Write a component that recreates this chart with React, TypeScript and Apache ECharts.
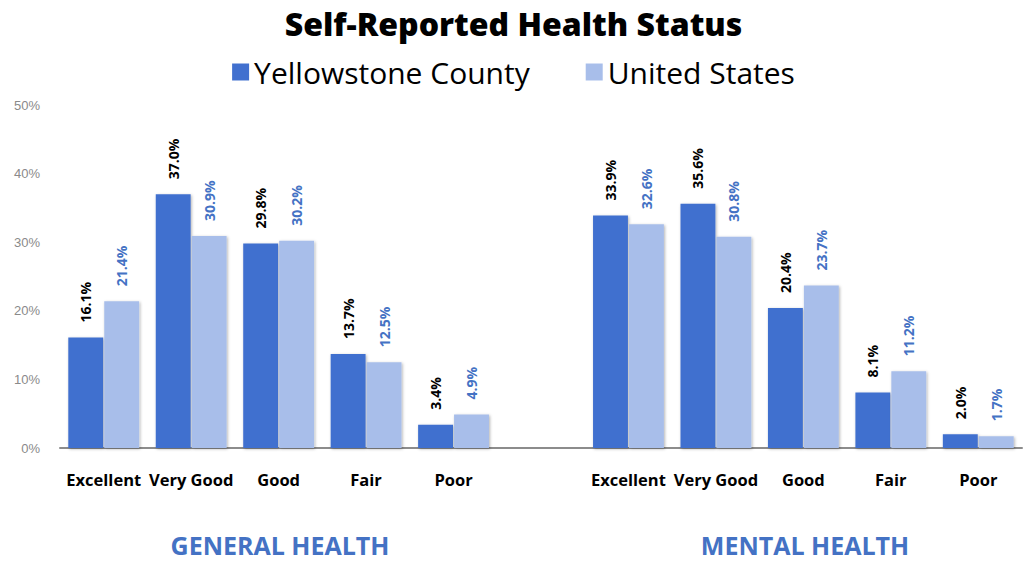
import React, { useEffect, useRef } from "react";
import * as echarts from "echarts";

const categories = ["Excellent", "Very Good", "Good", "Fair", "Poor", "", "Excellent", "Very Good", "Good", "Fair", "Poor"];
const generalYellowstone = [16.1, 37.0, 29.8, 13.7, 3.4];
const generalUS = [21.4, 30.9, 30.2, 12.5, 4.9];
const mentalYellowstone = [33.9, 35.6, 20.4, 8.1, 2.0];
const mentalUS = [32.6, 30.8, 23.7, 11.2, 1.7];
const yTicks = [0, 10, 20, 30, 40, 50];
const groupLabels = ["GENERAL HEALTH", "MENTAL HEALTH"];

const C_YC = "#4170CF";
const C_US = "#A8BEEA";
const FONT = "'Open Sans', 'Noto Sans', sans-serif";

export default function App() {
  const ref = useRef<HTMLDivElement>(null);
  useEffect(() => {
    document.body.style.margin = "0";
    if (!ref.current) return;
    const chart = echarts.init(ref.current, undefined, { renderer: "svg" });
    const yc = [...generalYellowstone, "-", ...mentalYellowstone];
    const us = [...generalUS, "-", ...mentalUS];
    const shadow = {
      shadowBlur: 3,
      shadowColor: "rgba(0,0,0,0.3)",
      shadowOffsetX: 1,
      shadowOffsetY: 1,
    };
    const mkLabel = (color: string) => ({
      show: true,
      position: "top",
      rotate: 90,
      align: "left",
      verticalAlign: "middle",
      distance: 15,
      color,
      fontFamily: FONT,
      fontWeight: "bold",
      fontSize: 14,
      formatter: (p: any) => (typeof p.value === "number" ? p.value.toFixed(1) + "%" : ""),
    });
    chart.setOption({
      animation: false,
      title: {
        text: "Self-Reported Health Status",
        left: "center",
        top: 2,
        textStyle: { fontFamily: FONT, fontWeight: 800, fontSize: 32, color: "#000" },
      },
      legend: {
        top: 52,
        left: "center",
        itemWidth: 17,
        itemHeight: 17,
        itemGap: 56,
        icon: "rect",
        textStyle: { fontFamily: FONT, fontSize: 30, color: "#000" },
        data: ["Yellowstone County", "United States"],
      },
      grid: { left: 60, right: 5, top: 105, bottom: 113, containLabel: false },
      xAxis: {
        type: "category",
        data: categories,
        axisLine: { lineStyle: { color: "#8c8c8c", width: 2 } },
        axisTick: { show: false },
        axisLabel: {
          interval: 0,
          margin: 23,
          fontFamily: FONT,
          fontWeight: "bold",
          fontSize: 16.5,
          color: "#000",
        },
      },
      yAxis: {
        type: "value",
        min: 0,
        max: 50,
        interval: 10,
        axisLine: { show: false },
        axisTick: { show: false },
        splitLine: { show: false },
        axisLabel: {
          formatter: (v: number) => (yTicks.includes(v) ? v + "%" : ""),
          fontFamily: "'Liberation Sans', Arial, sans-serif",
          fontSize: 13,
          color: "#8a8a8a",
          margin: 20,
        },
      },
      series: [
        {
          name: "Yellowstone County",
          type: "bar",
          data: yc,
          itemStyle: { color: C_YC, ...shadow },
          barGap: "3%",
          barCategoryGap: "19%",
          label: mkLabel("#000"),
        },
        {
          name: "United States",
          type: "bar",
          data: us,
          itemStyle: { color: C_US, ...shadow },
          barGap: "3%",
          barCategoryGap: "19%",
          label: mkLabel("#4472C4"),
        },
      ],
      graphic: [
        {
          type: "text",
          x: 280,
          y: 545,
          style: {
            text: groupLabels[0],
            fill: "#4472C4",
            font: `bold 25px ${FONT}`,
            textAlign: "center",
            textVerticalAlign: "middle",
          },
        },
        {
          type: "text",
          x: 805,
          y: 545,
          style: {
            text: groupLabels[1],
            fill: "#4472C4",
            font: `bold 25px ${FONT}`,
            textAlign: "center",
            textVerticalAlign: "middle",
          },
        },
      ],
    });
    return () => chart.dispose();
  }, []);
  return <div ref={ref} style={{ width: 1027, height: 561 }} />;
}
